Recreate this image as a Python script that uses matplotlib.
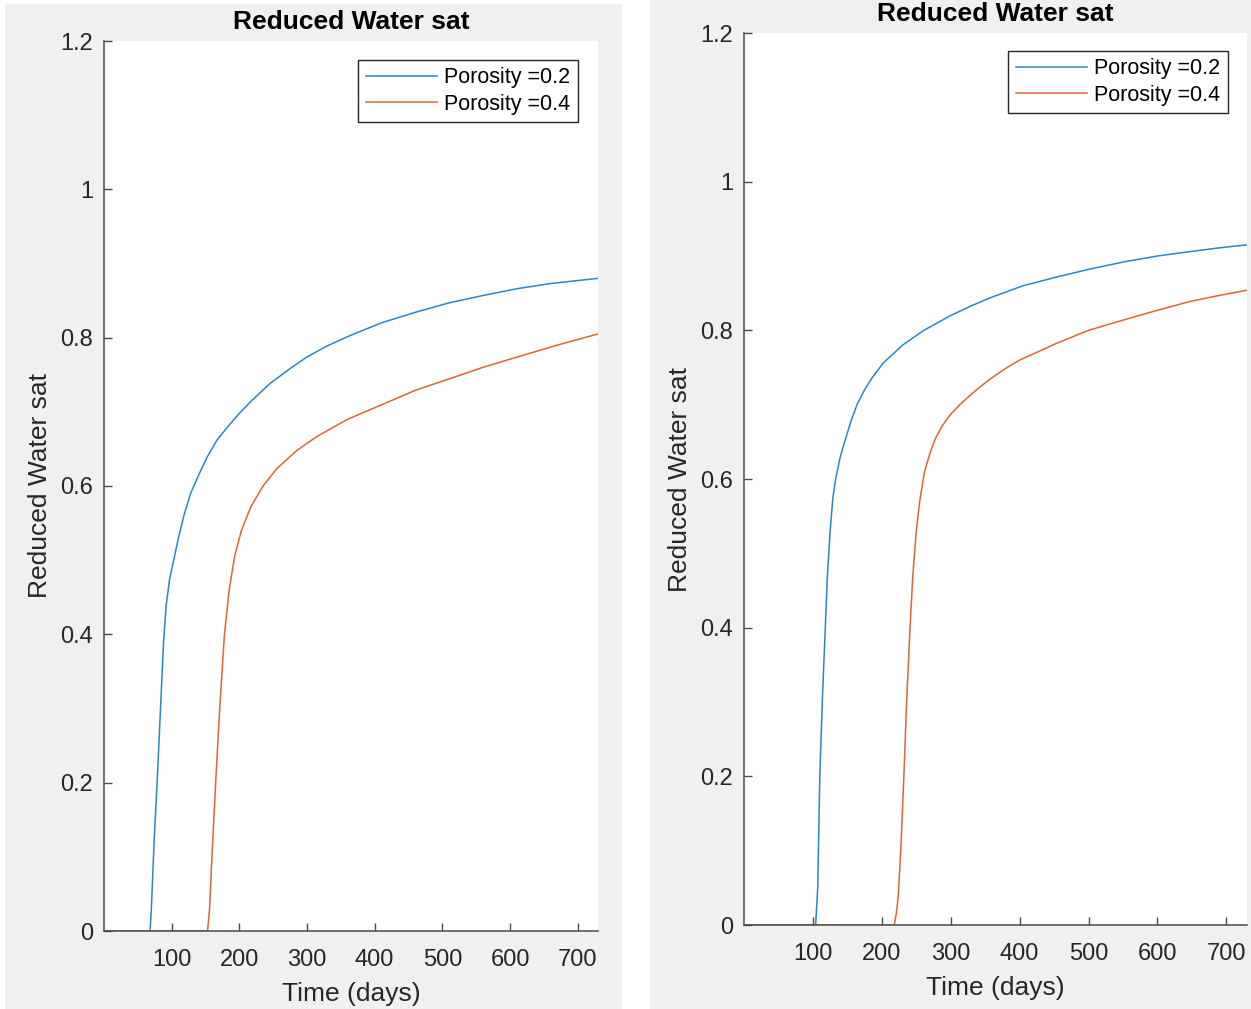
import matplotlib.pyplot as plt
from matplotlib.patches import Rectangle

plt.rcParams['font.family'] = ['Liberation Sans', 'DejaVu Sans']

# ---- data (days, reduced water saturation) ----
left_days_02 = [0, 68, 70, 74, 79, 84, 88, 92, 97, 103, 110, 118, 128, 140, 153, 167,
                183, 200, 217, 245, 276, 300, 330, 364, 410, 463, 510, 561, 610,
                660, 730]
left_sat_02 = [0, 0, 0.03, 0.12, 0.21, 0.31, 0.39, 0.44, 0.475, 0.5, 0.53, 0.56, 0.59,
               0.615, 0.64, 0.662, 0.68, 0.698, 0.714, 0.738, 0.759, 0.774, 0.789,
               0.803, 0.82, 0.835, 0.847, 0.857, 0.866, 0.873, 0.880]
left_days_04 = [0, 153, 156, 160, 165, 171, 178, 185, 193, 203, 217, 235, 256, 285,
                315, 360, 414, 460, 512, 560, 611, 670, 730]
left_sat_04 = [0, 0, 0.03, 0.11, 0.2, 0.3, 0.4, 0.46, 0.505, 0.54, 0.572, 0.60, 0.624,
               0.648, 0.667, 0.69, 0.711, 0.729, 0.745, 0.76, 0.774, 0.79, 0.805]

right_days_02 = [0, 104, 107, 110, 114, 118, 121, 125, 129, 133, 139, 146, 155, 164,
                 175, 185, 202, 230, 261, 300, 330, 358, 405, 455, 500, 551, 600,
                 648, 690, 730]
right_sat_02 = [0, 0, 0.05, 0.2, 0.31, 0.4, 0.47, 0.53, 0.575, 0.6, 0.627, 0.65,
                0.677, 0.70, 0.72, 0.735, 0.756, 0.78, 0.80, 0.82, 0.833, 0.844, 0.86,
                0.872, 0.882, 0.892, 0.9, 0.906, 0.911, 0.915]
right_days_04 = [0, 218, 221, 224, 228, 232, 236, 241, 245, 250, 255, 262, 270, 278,
                 288, 299, 312, 325, 340, 358, 380, 400, 455, 500, 551, 600, 648,
                 690, 730]
right_sat_04 = [0, 0, 0.015, 0.04, 0.11, 0.2, 0.3, 0.4, 0.47, 0.53, 0.57, 0.61, 0.635,
                0.655, 0.672, 0.686, 0.699, 0.71, 0.722, 0.735, 0.749, 0.76, 0.783,
                0.8, 0.814, 0.827, 0.839, 0.847, 0.854]

labels = ['Porosity =0.2', 'Porosity =0.4']
y_ticks = [0, 0.2, 0.4, 0.6, 0.8, 1, 1.2]
y_tick_labels = ['0', '0.2', '0.4', '0.6', '0.8', '1', '1.2']
x_ticks = [100, 200, 300, 400, 500, 600, 700]

W, H = 1251, 1009
fig = plt.figure(figsize=(W / 100, H / 100), dpi=100, facecolor='white')

# grey MATLAB figure windows
fig.patches.append(Rectangle((5 / W, 0), (622 - 5) / W, (H - 4) / H,
                             transform=fig.transFigure, facecolor='#f0f0f0',
                             edgecolor='none', zorder=-10))
fig.patches.append(Rectangle((650 / W, 0), 1 - 650 / W, 1,
                             transform=fig.transFigure, facecolor='#f0f0f0',
                             edgecolor='none', zorder=-10))

ax1 = fig.add_axes([104 / W, (H - 931) / H, 494 / W, 890 / H])
ax2 = fig.add_axes([744 / W, (H - 925) / H, 503 / W, 892 / H])

panels = [
    (ax1, left_days_02, left_sat_02, left_days_04, left_sat_04, (0.9595, 0.9787)),
    (ax2, right_days_02, right_sat_02, right_days_04, right_sat_04, (0.962, 0.980)),
]

axis_col = '#4a4a4a'
text_col = '#262626'

for ax, d1, s1, d2, s2, anchor in panels:
    ax.plot(d1, s1, color='#2a86c6', lw=1.1, label=labels[0])
    ax.plot(d2, s2, color='#df6435', lw=1.1, label=labels[1])
    ax.set_xlim(0, 730)
    ax.set_ylim(0, 1.2)
    ax.set_xticks(x_ticks)
    ax.set_yticks(y_ticks, labels=y_tick_labels)
    for side in ['top', 'right']:
        ax.spines[side].set_visible(False)
    for side in ['left', 'bottom']:
        ax.spines[side].set_color(axis_col)
        ax.spines[side].set_linewidth(1.1)
    ax.tick_params(direction='in', length=6, width=1.0, color=axis_col,
                   labelsize=17, labelcolor=text_col)
    ax.tick_params(axis='x', pad=13)
    ax.tick_params(axis='y', pad=8)
    ax.set_xlabel('Time (days)', fontsize=19, color=text_col, labelpad=8)
    ax.set_ylabel('Reduced Water sat', fontsize=19, color=text_col, labelpad=6)
    ax.set_title('Reduced Water sat', fontsize=19, fontweight='bold', pad=8.5)
    leg = ax.legend(loc='upper right', bbox_to_anchor=anchor, borderaxespad=0,
                    fontsize=15.5, fancybox=False, framealpha=1,
                    edgecolor=text_col, handlelength=3.3, handletextpad=0.35,
                    labelspacing=0.25, borderpad=0.35)
    leg.get_frame().set_linewidth(1.0)

fig.savefig('out.png', dpi=100)
